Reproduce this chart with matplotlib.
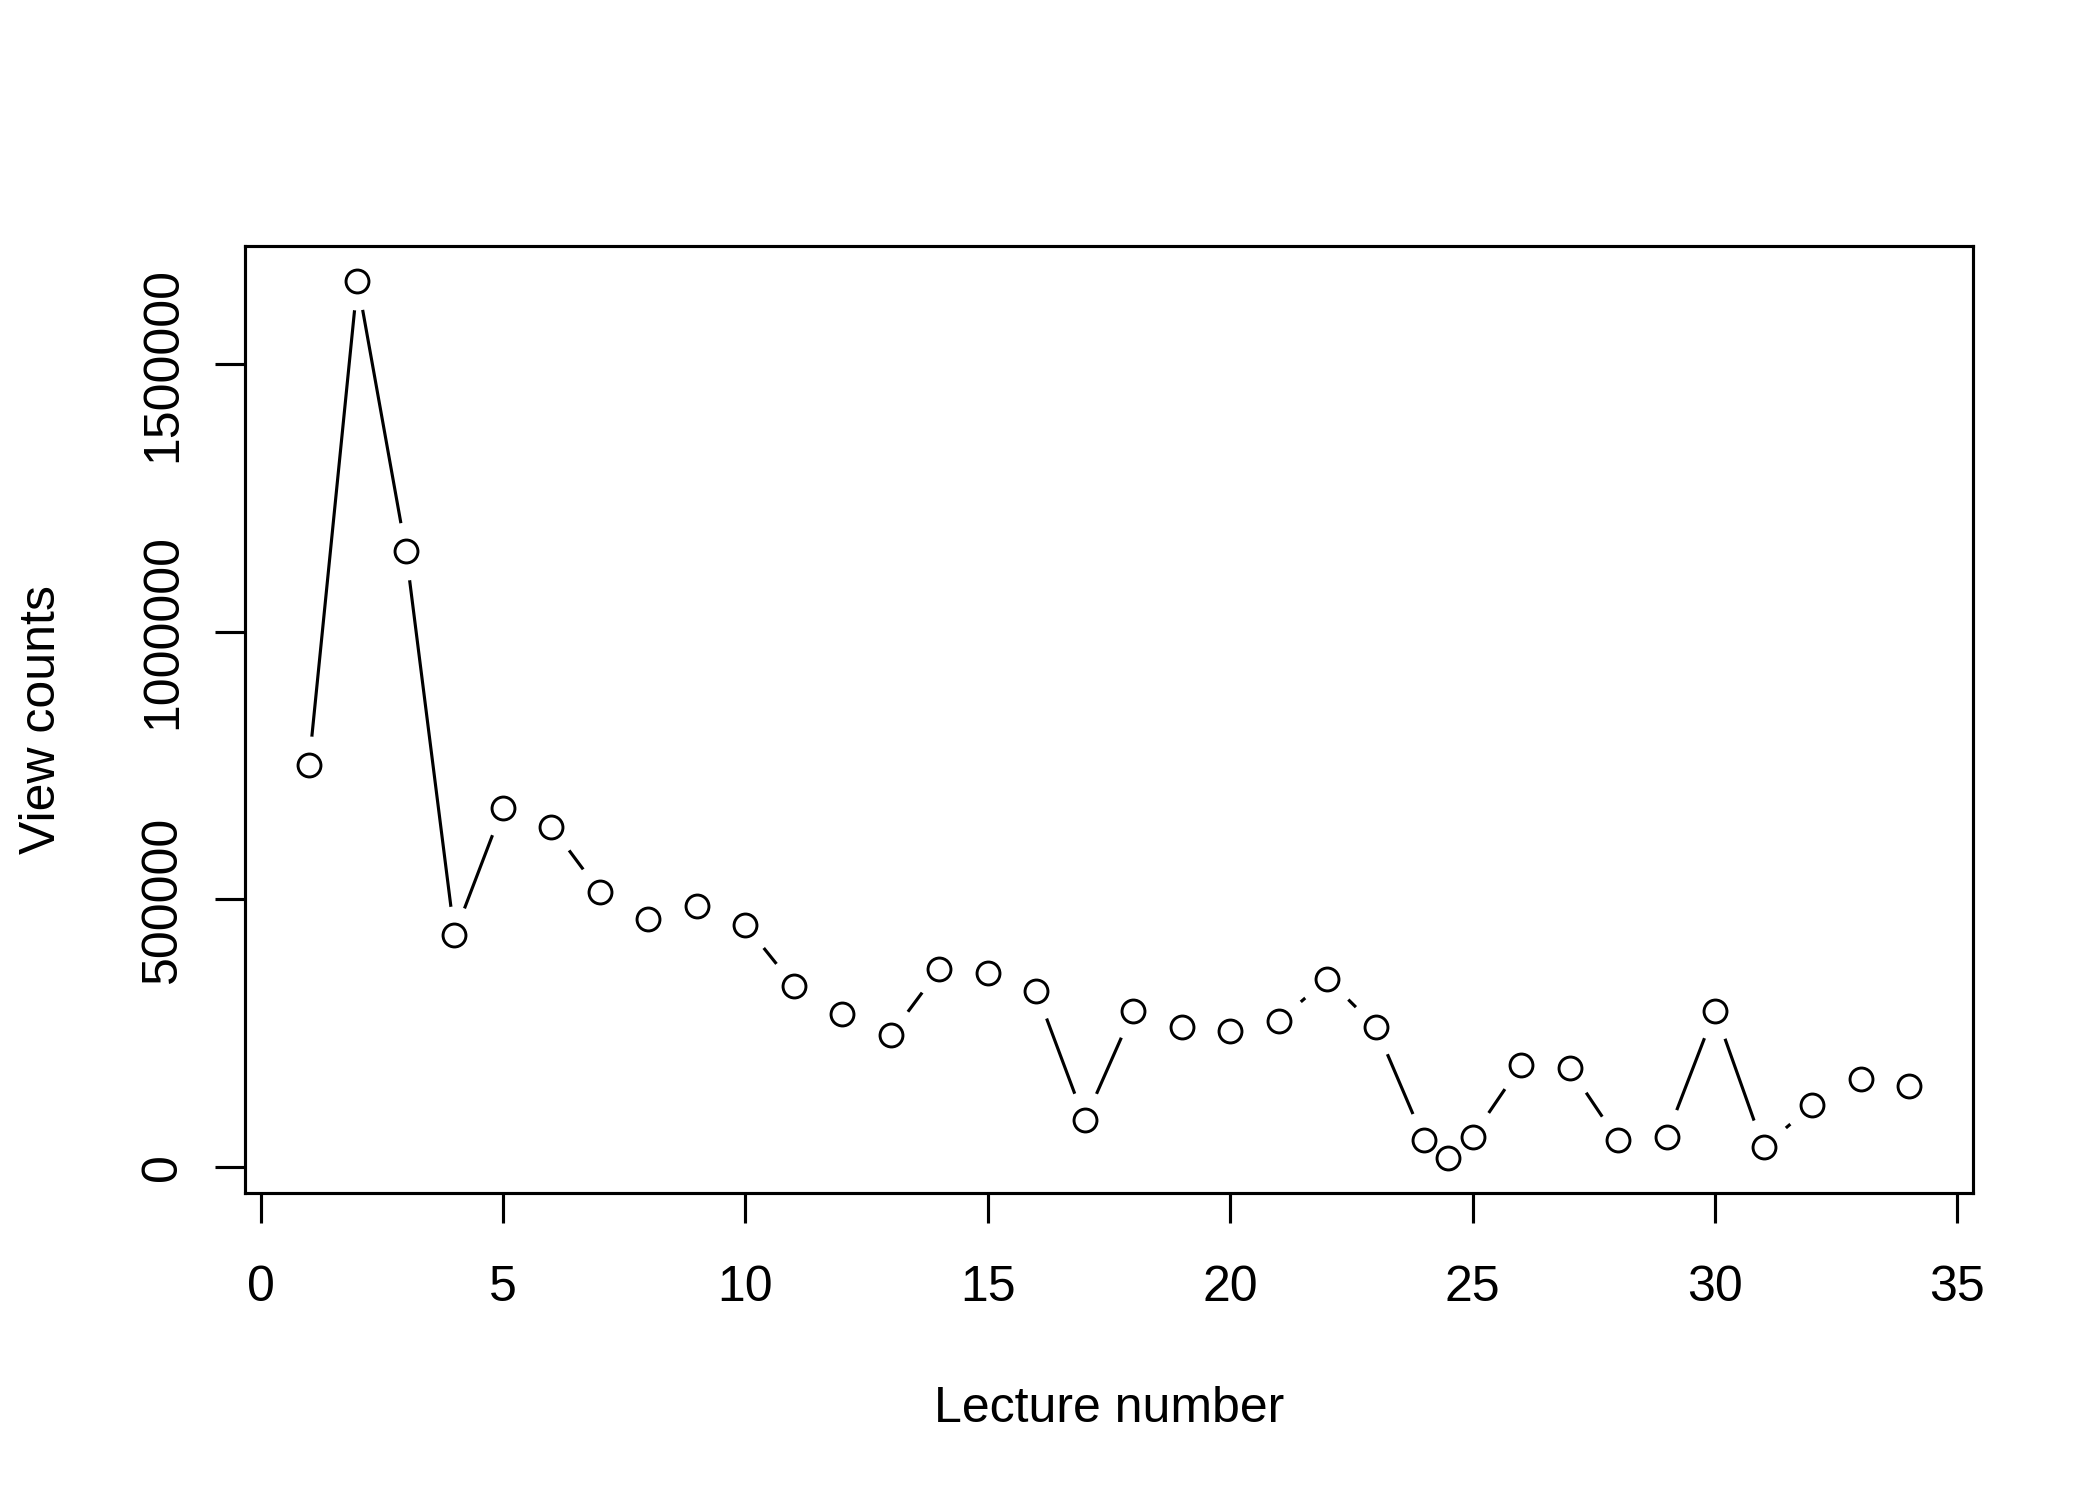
import matplotlib
matplotlib.use("Agg")
import matplotlib.pyplot as plt

lecture = [1, 2, 3, 4, 5, 6, 7, 8, 9, 10, 11, 12, 13, 14, 15, 16, 17, 18, 19, 20,
           21, 22, 23, 24, 24.5, 25, 26, 27, 28, 29, 30, 31, 32, 33, 34]
views = [751000, 1655000, 1150000, 434000, 671000, 636000, 514000, 464000, 487000,
         452000, 339000, 285000, 247000, 369000, 362000, 329000, 87000, 292000,
         262000, 255000, 272000, 352000, 262000, 50000, 17000, 57000, 190000,
         185000, 50000, 57000, 292000, 37000, 115000, 165000, 152000]
xticks = [0, 5, 10, 15, 20, 25, 30, 35]
yticks = [0, 500000, 1000000, 1500000]

plt.rcParams['font.family'] = ['Liberation Sans', 'DejaVu Sans']
fs = 12

fig = plt.figure(figsize=(7, 5), dpi=300)
ax = fig.add_axes([245/2100, 1-1193/1500, (1973-245)/2100, (1193-246)/1500])

# line, then white discs to create gaps (R type="b"), then open circles
ax.plot(lecture, views, color='black', lw=0.75, zorder=1, clip_on=False)
ax.plot(lecture, views, ls='none', marker='o', ms=13.9, mfc='white', mec='none', zorder=1.5, clip_on=False)
ax.plot(lecture, views, ls='none', marker='o', ms=5.5, mfc='white', mec='black', mew=0.7, zorder=2)

xr = max(lecture) - min(lecture)
ax.set_xlim(min(lecture) - 0.04*xr, max(lecture) + 0.04*xr)
yr = max(views) - min(views)
ax.set_ylim(min(views) - 0.04*yr, max(views) + 0.04*yr)

ax.set_xticks(xticks)
ax.set_xticklabels([str(t) for t in xticks], fontsize=fs)
ax.set_yticks(yticks)
ax.set_yticklabels([str(t) for t in yticks], fontsize=fs, rotation=90, va='center')
ax.tick_params(direction='out', length=7.2, width=0.75)
ax.tick_params(axis='x', pad=10)
ax.tick_params(axis='y', pad=7)
for s in ax.spines.values():
    s.set_linewidth(0.75)
    s.set_zorder(3)

ax.set_xlabel('Lecture number', fontsize=fs, va='baseline')
ax.xaxis.set_label_coords(0.5, (1193-1422)/947)
ax.set_ylabel('View counts', fontsize=fs, va='baseline', rotation_mode='anchor')
ax.yaxis.set_label_coords((55-245)/1728, 0.5)

fig.savefig('out.png', dpi=300)
